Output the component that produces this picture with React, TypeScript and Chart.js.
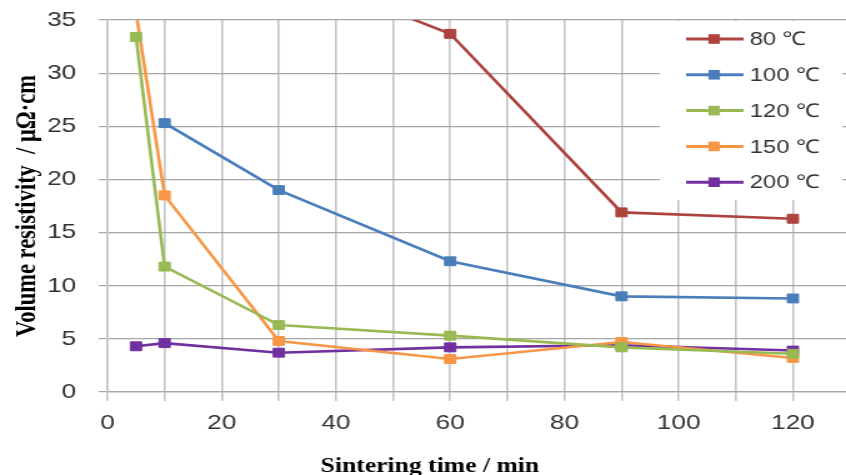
import React, { useEffect, useRef } from 'react';
import { Chart, registerables } from 'chart.js';

Chart.register(...registerables);

// ---- data ----
const times = [5, 10, 30, 60, 90, 120];
const seriesNames = ['80 ℃', '100 ℃', '120 ℃', '150 ℃', '200 ℃'];
const r80 = [null, null, 40, 33.7, 16.9, 16.3];
const r100 = [null, 25.3, 19.0, 12.3, 9.0, 8.8];
const r120 = [33.4, 11.8, 6.3, 5.3, 4.2, 3.6];
const r150 = [35.7, 18.5, 4.8, 3.1, 4.7, 3.2];
const r200 = [4.3, 4.6, 3.7, 4.2, 4.4, 3.9];
const seriesValues = [r80, r100, r120, r150, r200];
const colors = ['#AD423E', '#4A7EBB', '#98B954', '#F79646', '#7030A0'];
const yTickValues = [0, 5, 10, 15, 20, 25, 30, 35];
const xTickValues = [0, 10, 20, 30, 40, 50, 60, 70, 80, 90, 100, 110, 120];
const xLabelEvery = 20;
const xTitle = 'Sintering time / min';
const yTitle = 'Volume resistivity  / μΩ·cm';

// canvas is drawn narrower and stretched horizontally, like the reference
const CW = 677;
const CH = 475;

const legendPlugin = {
  id: 'insideLegend',
  afterDraw(chart: any) {
    const ctx = chart.ctx;
    ctx.save();
    ctx.fillStyle = '#ffffff';
    ctx.fillRect(528, 21, 146, 179);
    const rowY0 = 39;
    const rowGap = 35.8;
    ctx.font = '19px "Liberation Sans", Arial, sans-serif';
    ctx.textBaseline = 'middle';
    ctx.textAlign = 'left';
    seriesNames.forEach((name, i) => {
      const y = rowY0 + i * rowGap;
      ctx.strokeStyle = colors[i];
      ctx.lineWidth = 3;
      ctx.beginPath();
      ctx.moveTo(549, y);
      ctx.lineTo(595, y);
      ctx.stroke();
      ctx.fillStyle = colors[i];
      ctx.fillRect(571.5 - 4.6, y - 4.8, 9.2, 9.6);
      ctx.fillStyle = '#333333';
      ctx.fillText(name, 600, y + 1);
    });
    // x axis title (offset to the left like the reference)
    ctx.font = 'bold 20.5px "Liberation Serif", "Times New Roman", serif';
    ctx.textAlign = 'center';
    ctx.textBaseline = 'alphabetic';
    ctx.fillStyle = '#000000';
    ctx.fillText(xTitle, 344, 472);
    ctx.restore();
  },
};

export default function App() {
  const ref = useRef<HTMLCanvasElement | null>(null);

  useEffect(() => {
    const canvas = ref.current;
    if (!canvas) return;
    const datasets = seriesNames.map((name, i) => ({
      label: name,
      data: times.map((t, j) => ({ x: t, y: seriesValues[i][j] })),
      borderColor: colors[i],
      backgroundColor: colors[i],
      pointBackgroundColor: colors[i],
      pointBorderColor: colors[i],
      pointStyle: 'rect',
      pointRadius: 6.3,
      pointBorderWidth: 1,
      borderWidth: 2.6,
      tension: 0,
      spanGaps: false,
    }));

    const chart = new Chart(canvas, {
      type: 'line',
      data: { datasets },
      options: {
        animation: false,
        responsive: false,
        devicePixelRatio: 1,
        layout: { autoPadding: false, padding: { top: 20, left: 0, right: 0, bottom: 0 } },
        plugins: { legend: { display: false }, tooltip: { enabled: false } },
        scales: {
          x: {
            type: 'linear',
            min: 0,
            max: 129.3,
            afterFit: (s: any) => {
              s.height = 83;
              s.paddingLeft = 0;
              s.paddingRight = 0;
            },
            afterBuildTicks: (s: any) => {
              s.ticks = xTickValues.map((v) => ({ value: v }));
            },
            ticks: {
              includeBounds: false,
              autoSkip: false,
              maxRotation: 0,
              padding: 10,
              color: '#333333',
              font: { family: '"Liberation Sans", Arial, sans-serif', size: 21 },
              callback: (v: any) => (Number(v) % xLabelEvery === 0 ? String(v) : ''),
            },
            grid: {
              color: '#c4c4c4',
              lineWidth: 1.6,
              tickLength: 9,
              drawTicks: true,
            },
            border: { color: '#a6a6a6', width: 1.2 },
            title: { display: false },
          },
          y: {
            type: 'linear',
            min: 0,
            max: 35,
            afterFit: (s: any) => {
              s.width = 86;
              s.paddingTop = 0;
              s.paddingBottom = 0;
            },
            afterBuildTicks: (s: any) => {
              s.ticks = yTickValues.map((v) => ({ value: v }));
            },
            ticks: {
              padding: 18,
              color: '#333333',
              font: { family: '"Liberation Sans", Arial, sans-serif', size: 21 },
            },
            grid: {
              color: '#a6a6a6',
              lineWidth: 1.2,
              tickLength: 7,
            },
            border: { color: '#c4c4c4', width: 1.6 },
            title: {
              display: true,
              text: yTitle,
              color: '#000000',
              padding: { top: 8.5, bottom: 0 },
              font: { family: '"Liberation Serif", "Times New Roman", serif', size: 22.5, weight: 'bold' },
            },
          },
        },
      },
      plugins: [legendPlugin],
    } as any);

    return () => chart.destroy();
  }, []);

  return (
    <div style={{ position: 'absolute', left: 0, top: 0, width: 846, height: 475, overflow: 'hidden', background: '#fff' }}>
      <canvas
        ref={ref}
        width={CW}
        height={CH}
        style={{ width: '846px', height: '475px', display: 'block' }}
      />
    </div>
  );
}
